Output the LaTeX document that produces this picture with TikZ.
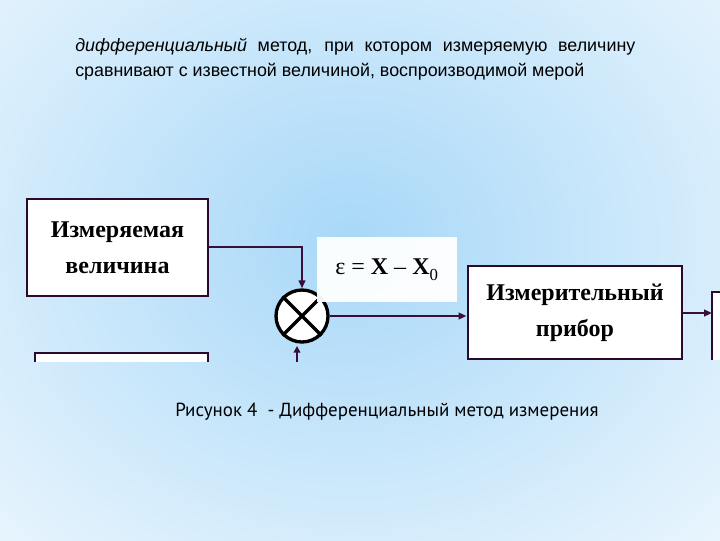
\documentclass[tikz,border=0pt]{standalone}
\usepackage{fontspec}
\setmainfont{Liberation Serif}
\newfontfamily\arialf{Liberation Sans}
\newfontfamily\capf{PT Sans}
\usetikzlibrary{arrows.meta}
\definecolor{bord}{HTML}{2A0A2A}
\definecolor{wire}{HTML}{3A0E3A}
\definecolor{bgblue}{HTML}{A8D8F8}
\tikzset{
  blockbox/.style={draw=bord, line width=2.2pt, fill=white, minimum width=181*0.75pt, minimum height=97*0.75pt, align=center, font=\fontsize{18}{19}\selectfont\bfseries, inner sep=0pt},
  wireline/.style={draw=wire, line width=1.6pt, -{Triangle[length=6pt,width=5pt]}},
}
\begin{document}
\begin{tikzpicture}[x=0.75pt,y=-0.75pt]
\useasboundingbox (0,0) rectangle (720,540);
\begin{scope}
\clip (0,0) rectangle (720,540);
\fill[white] (0,0) rectangle (720,540);
\shade[inner color=bgblue, outer color=white] (350,240) ellipse (690 and 580);
\end{scope}
% top text
\node[anchor=west, inner sep=0pt, font=\arialf\fontsize{13.4}{15}\selectfont] (t1) at (75,47) {\makebox[420pt][s]{\itshape дифференциальный\upshape{} метод, при котором измеряемую величину}};
\node[anchor=west, inner sep=0pt, font=\arialf\fontsize{13.4}{15}\selectfont] (t2) at (75,72) {сравнивают с известной величиной, воспроизводимой мерой};
% box 1
\node[blockbox] (b1) at (117.5,247.5) {Измеряемая\\[8pt]величина};
% comparator
\node[circle, draw=black, line width=2.5pt, fill=white, minimum size=52*0.75pt, inner sep=0pt] (c) at (302,316) {};
\draw[line width=2.5pt] (c.north west) -- (c.south east) (c.north east) -- (c.south west);
% epsilon label
\node[fill=white, fill opacity=0.95, text opacity=1, minimum width=140*0.75pt, minimum height=65*0.75pt, font=\fontsize{18}{19}\selectfont] (eps) at (387,269.5) {ε = \textbf{X} -- \textbf{X}\textsubscript{\raisebox{-0.35ex}{0}}};
% box 3
\node[blockbox, minimum width=214*0.75pt, minimum height=93*0.75pt] (b3) at (575,312.5) {\raisebox{-2pt}{Измерительный}\\[8pt]\raisebox{-2pt}{прибор}};
% partial box 4
\coordinate (b4tl) at (712,292);
\fill[white] (712,292) rectangle (722,360);
\draw[bord, line width=2.2pt] (722,292) -- (712,292) -- (712,360);
% partial box 2
\fill[white] (35,353) rectangle (208,362);
\draw[bord, line width=2.2pt] (35,362) -- (35,353) -- (208,353) -- (208,362);
% wires
\draw[wireline] (b1.east |- 0,247) -| (c.north);
\draw[wireline] (c.east) -- (c.east -| b3.west);
\draw[wireline] (b3.east |- 0,313) -- (b4tl |- 0,313);
\coordinate (cin) at (297,362);
\draw[wire, line width=1.6pt, -{Triangle[length=5pt,width=5pt]}] (cin) -- (297,346);
% caption
\node[anchor=west, inner sep=0pt, font=\capf\fontsize{14.2}{16}\selectfont] (cap) at (175,412) {Рисунок 4\ \ - Дифференциальный метод измерения};
\end{tikzpicture}
\end{document}
